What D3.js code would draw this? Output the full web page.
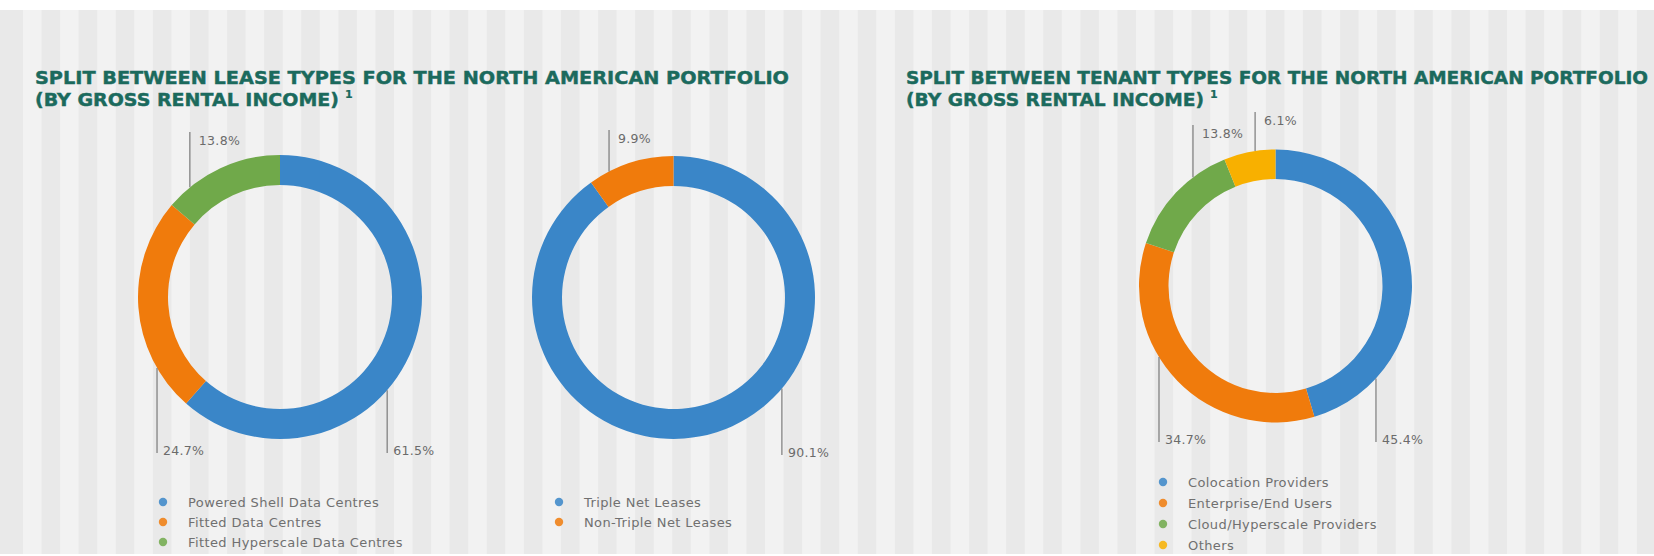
<!DOCTYPE html>
<html>
<head>
<meta charset="utf-8">
<title>North American Portfolio – Gross Rental Income Split</title>
<script src="https://cdn.jsdelivr.net/npm/d3@7/dist/d3.min.js"></script>
<style>
  html, body { margin: 0; padding: 0; background: #ffffff; }
  svg { display: block; }
</style>
</head>
<body>
<svg id="chart" width="1654" height="556"></svg>
<script>
// ---- Data ----------------------------------------------------------------
const leaseCategories = ["Powered Shell Data Centres", "Fitted Data Centres", "Fitted Hyperscale Data Centres"];
const leaseValues = [61.5, 24.7, 13.8];

const netLeaseCategories = ["Triple Net Leases", "Non-Triple Net Leases"];
const netLeaseValues = [90.1, 9.9];

const tenantCategories = ["Colocation Providers", "Enterprise/End Users", "Cloud/Hyperscale Providers", "Others"];
const tenantValues = [45.4, 34.7, 13.8, 6.1];

const leftTitle = ["SPLIT BETWEEN LEASE TYPES FOR THE NORTH AMERICAN PORTFOLIO", "(BY GROSS RENTAL INCOME)"];
const rightTitle = ["SPLIT BETWEEN TENANT TYPES FOR THE NORTH AMERICAN PORTFOLIO", "(BY GROSS RENTAL INCOME)"];
const footnoteMark = "1";

// ---- Styles --------------------------------------------------------------
const BLUE = "#3a86c8", ORANGE = "#f07b0c", GREEN = "#70a94a", YELLOW = "#f8b000";
const TITLE_COLOR = "#1b6a5d";
const LABEL_FONT = "'DejaVu Sans', Verdana, sans-serif";

const W = 1654, H = 556;
const svg = d3.select("#chart");

// ---- Striped background --------------------------------------------------
svg.append("rect").attr("width", W).attr("height", H).attr("fill", "#ffffff");
svg.append("rect").attr("x", 0).attr("y", 10).attr("width", W).attr("height", 544).attr("fill", "#e9e9e9");
const stripePeriod = 37.1;
svg.append("g").selectAll("rect")
  .data(d3.range(23, W, stripePeriod))
  .join("rect")
  .attr("x", d => d)
  .attr("y", 10)
  .attr("width", stripePeriod / 2)
  .attr("height", 544)
  .attr("fill", "#f2f2f2");

// ---- Titles --------------------------------------------------------------
function drawTitle(lines, x, width1, width2) {
  const g = svg.append("g")
    .attr("font-family", "'DejaVu Sans', Verdana, sans-serif")
    .attr("font-weight", "bold")
    .attr("fill", TITLE_COLOR)
    .attr("stroke", TITLE_COLOR)
    .attr("stroke-width", 0.45);
  g.append("text")
    .attr("x", x).attr("y", 84)
    .attr("font-size", 18.5)
    .attr("textLength", width1).attr("lengthAdjust", "spacingAndGlyphs")
    .text(lines[0]);
  g.append("text")
    .attr("x", x).attr("y", 106)
    .attr("font-size", 18.5)
    .attr("textLength", width2).attr("lengthAdjust", "spacingAndGlyphs")
    .text(lines[1]);
  g.append("text")
    .attr("x", x + width2 + 6).attr("y", 98)
    .attr("font-size", 11)
    .attr("stroke-width", 0.2)
    .text(footnoteMark);
}
drawTitle(leftTitle, 35, 754, 304);
drawTitle(rightTitle, 906, 742, 298);

// ---- Donut charts --------------------------------------------------------
// Each chart: ring geometry, leader callouts (angle where the leader leaves the ring,
// vertical end of the leader) and legend placement.
const charts = [
  {
    categories: leaseCategories, values: leaseValues, colors: [BLUE, ORANGE, GREEN],
    cx: 280, cy: 297, outer: 142, inner: 112,
    callouts: [{ angle: 131, end: 453 }, { angle: 240, end: 453 }, { angle: 320.6, end: 132 }],
    legend: { x: 163, y: 502, step: 20 }
  },
  {
    categories: netLeaseCategories, values: netLeaseValues, colors: [BLUE, ORANGE],
    cx: 673.5, cy: 297.5, outer: 141.5, inner: 111.5,
    callouts: [{ angle: 130, end: 455 }, { angle: 332.9, end: 130 }],
    legend: { x: 559, y: 502, step: 20 }
  },
  {
    categories: tenantCategories, values: tenantValues, colors: [BLUE, ORANGE, GREEN, YELLOW],
    cx: 1275.5, cy: 286, outer: 136.5, inner: 107,
    callouts: [{ angle: 132.6, end: 442 }, { angle: 238.6, end: 442 }, { angle: 322.8, end: 125 }, { angle: 351.4, end: 112 }],
    legend: { x: 1163, y: 482, step: 21 }
  }
];

const pie = d3.pie().sort(null).value(d => d);

charts.forEach(c => {
  const color = d3.scaleOrdinal().domain(c.categories).range(c.colors);
  const arcs = pie(c.values);
  const arc = d3.arc().innerRadius(c.inner).outerRadius(c.outer);

  const g = svg.append("g").attr("transform", `translate(${c.cx},${c.cy})`);
  g.selectAll("path")
    .data(arcs)
    .join("path")
    .attr("d", arc)
    .attr("fill", (d, i) => color(c.categories[i]));

  // Leader lines and percentage labels
  const cg = svg.append("g");
  arcs.forEach((d, i) => {
    const co = c.callouts[i];
    const a = co.angle * Math.PI / 180;
    const x = c.cx + c.outer * Math.sin(a);
    const y0 = c.cy - c.outer * Math.cos(a);
    const below = co.end > y0;
    cg.append("line")
      .attr("x1", x).attr("x2", x)
      .attr("y1", y0).attr("y2", co.end)
      .attr("stroke", "#7a7a7a").attr("stroke-width", 1.2);
    cg.append("text")
      .attr("x", x + (below ? 6 : 9))
      .attr("y", below ? co.end + 2 : co.end + 13)
      .attr("font-family", LABEL_FONT)
      .attr("font-size", 12.5)
      .attr("letter-spacing", 0.3)
      .attr("fill", "#6b6b6b")
      .text(d3.format(".1f")(d.data) + "%");
  });

  // Legend
  const lg = svg.append("g");
  c.categories.forEach((name, i) => {
    const y = c.legend.y + i * c.legend.step;
    lg.append("circle")
      .attr("cx", c.legend.x).attr("cy", y).attr("r", 4.2)
      .attr("fill", color(name)).attr("opacity", 0.85);
    lg.append("text")
      .attr("x", c.legend.x + 25).attr("y", y + 4.5)
      .attr("font-family", LABEL_FONT)
      .attr("font-size", 13)
      .attr("letter-spacing", 0.4)
      .attr("fill", "#707070")
      .text(name);
  });
});
</script>
</body>
</html>
